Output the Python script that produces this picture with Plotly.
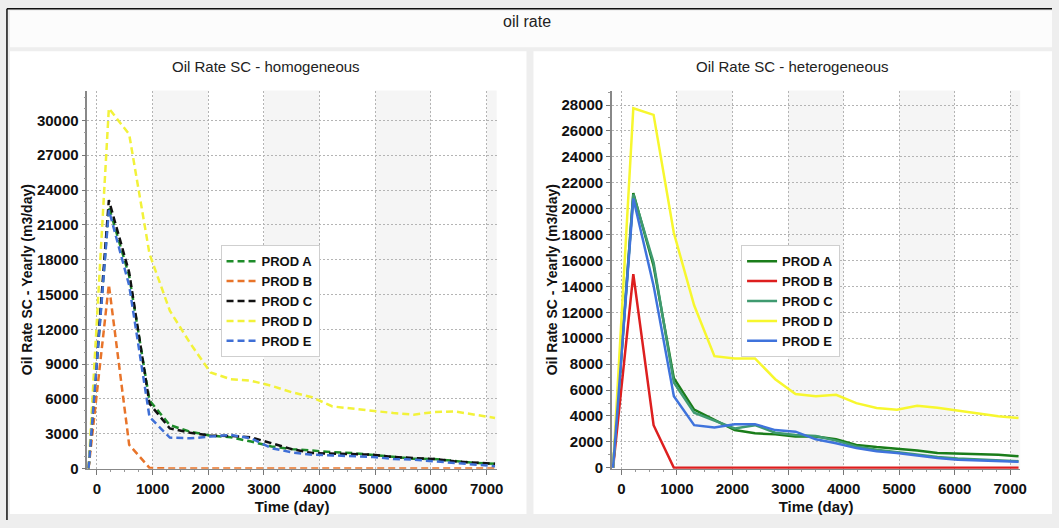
import plotly.graph_objects as go

# ---------------- data ----------------
time_days = [-150, 215, 580, 945, 1310, 1675, 2040, 2405, 2770, 3135, 3500,
             3865, 4230, 4595, 4960, 5325, 5690, 6055, 6420, 6785, 7150]
series_names = ["PROD A", "PROD B", "PROD C", "PROD D", "PROD E"]

# homogeneous case
homo_a = [0, 22560, 16600, 5860, 3740, 3170, 2830, 2690, 2320, 1900, 1670,
          1530, 1415, 1330, 1190, 990, 850, 820, 620, 480, 400]
homo_b = [0, 15850, 2040, 50, 0, 0, 0, 0, 0, 0, 0,
          0, 0, 0, 0, 0, 0, 0, 0, 0, 0]
homo_c = [0, 23125, 16900, 5580, 3450, 3090, 2830, 2800, 2690, 2180, 1670,
          1330, 1270, 1270, 1190, 990, 900, 820, 620, 480, 400]
homo_d = [0, 31050, 28800, 18500, 13600, 10800, 8270, 7700, 7560, 7130, 6570,
          6140, 5350, 5150, 5010, 4780, 4640, 4870, 4920, 4670, 4360]
homo_e = [0, 22280, 15770, 4440, 2660, 2600, 2750, 2890, 2600, 1750, 1390,
          1190, 1130, 1050, 990, 820, 760, 620, 480, 280, 200]

# heterogeneous case
hete_a = [0, 21210, 15580, 6920, 4490, 3670, 2910, 2660, 2580, 2410, 2410,
          2200, 1770, 1600, 1470, 1340, 1140, 1090, 1090, 1010, 890]
hete_b = [0, 14950, 3290, 0, 0, 0, 0, 0, 0, 0, 0,
          0, 0, 0, 0, 0, 0, 0, 0, 0, 0]
hete_c = [0, 21100, 15840, 6590, 4260, 3620, 3040, 3290, 2710, 2530, 2460,
          2100, 1650, 1390, 1190, 1010, 840, 710, 630, 560, 510]
hete_d = [0, 27750, 27240, 18120, 12540, 8620, 8440, 8440, 6840, 5700, 5520,
          5630, 4990, 4610, 4490, 4790, 4640, 4430, 4180, 3980, 3850]
hete_e = [0, 20780, 14060, 5520, 3290, 3120, 3370, 3370, 2910, 2790, 2200,
          1900, 1520, 1270, 1140, 940, 760, 630, 580, 510, 460]

homo_values = [homo_a, homo_b, homo_c, homo_d, homo_e]
hete_values = [hete_a, hete_b, hete_c, hete_d, hete_e]

x_tick_vals = [0, 1000, 2000, 3000, 4000, 5000, 6000, 7000]
homo_y_ticks = [0, 3000, 6000, 9000, 12000, 15000, 18000, 21000, 24000, 27000, 30000]
hete_y_ticks = [0, 2000, 4000, 6000, 8000, 10000, 12000, 14000, 16000, 18000,
                20000, 22000, 24000, 26000, 28000]
shade_bands = [(1000, 2000), (3000, 4000), (5000, 6000), (7000, 8000)]

homo_colors = ["#1e8c2a", "#e8742a", "#111111", "#f2f23a", "#3f6fd6"]
hete_colors = ["#1a7d1a", "#dd1f1f", "#3f9a70", "#f7f72e", "#3f73dc"]

# ---------------- figure ----------------
W, H = 1059, 528
fig = go.Figure()

for name, vals, col in zip(series_names, homo_values, homo_colors):
    fig.add_trace(go.Scatter(x=time_days, y=vals, name=name, mode="lines",
                             line=dict(color=col, width=2.5, dash="7px,4px"),
                             xaxis="x", yaxis="y", legend="legend"))
for name, vals, col in zip(series_names, hete_values, hete_colors):
    fig.add_trace(go.Scatter(x=time_days, y=vals, name=name, mode="lines",
                             line=dict(color=col, width=2.5),
                             xaxis="x2", yaxis="y2", legend="legend2"))

def px_x(p):
    return p / W

def px_y(p):
    return 1 - p / H

shapes = []
# background panels
shapes.append(dict(type="rect", xref="paper", yref="paper", x0=px_x(10), x1=1,
                   y0=px_y(48), y1=px_y(11), fillcolor="#fcfcfc", line_width=0, layer="below"))
shapes.append(dict(type="rect", xref="paper", yref="paper", x0=px_x(10), x1=px_x(530),
                   y0=px_y(522), y1=px_y(52), fillcolor="#ffffff", line_width=0, layer="below"))
shapes.append(dict(type="rect", xref="paper", yref="paper", x0=px_x(537), x1=1,
                   y0=px_y(522), y1=px_y(52), fillcolor="#ffffff", line_width=0, layer="below"))
# black frame lines
shapes.append(dict(type="line", xref="paper", yref="paper", x0=px_x(7), x1=1,
                   y0=px_y(9), y1=px_y(9), line=dict(color="#111111", width=1.5)))
shapes.append(dict(type="line", xref="paper", yref="paper", x0=px_x(7), x1=px_x(7),
                   y0=0, y1=px_y(9), line=dict(color="#111111", width=1.5)))
# alternating shaded bands
for xr, yr in (("x", "y domain"), ("x2", "y2 domain")):
    for a, b in shade_bands:
        shapes.append(dict(type="rect", xref=xr, yref=yr, x0=a, x1=b, y0=0, y1=1,
                           fillcolor="#f5f5f5", line_width=0, layer="below"))

grid_col = "#b4b4b4"
FONT = "Liberation Sans, Arial"
tick_font = dict(family=FONT, size=15, color="#111111", weight="bold")
title_font = dict(family=FONT, size=15, color="#111111", weight="bold")

def xaxis_cfg(domain, anchor):
    return dict(domain=domain, anchor=anchor, range=[-170, 7180],
                tickvals=x_tick_vals, tickformat="d",
                ticks="outside", ticklen=5, tickcolor="#777777",
                showline=True, linecolor="#888888", linewidth=1,
                showgrid=True, gridcolor=grid_col, griddash="2px,2px", gridwidth=1,
                zeroline=False, tickfont=tick_font, ticklabelstandoff=1,
                title=dict(text="Time (day)", font=title_font, standoff=5),
                minor=dict(dtick=250, tick0=0, ticks="outside", ticklen=2,
                           tickcolor="#999999", showgrid=False))

def yaxis_cfg(domain, anchor, rng, ticks, minor_dt):
    return dict(domain=domain, anchor=anchor, range=rng,
                tickvals=ticks, tickformat="d",
                ticks="outside", ticklen=4, tickcolor="#777777",
                showline=True, linecolor="#888888", linewidth=1.5,
                showgrid=True, gridcolor=grid_col, griddash="2px,2px", gridwidth=1,
                zeroline=False, tickfont=tick_font,
                title=dict(text="Oil Rate SC - Yearly (m3/day)",
                           font=dict(family=FONT, size=14, color="#111111", weight="bold"),
                           standoff=1),
                minor=dict(dtick=minor_dt, tick0=0, ticks="outside", ticklen=2,
                           tickcolor="#999999", showgrid=False))

legend_font = dict(family=FONT, size=13, color="#111111", weight="bold")
ydom = [px_y(476), px_y(92)]
fig.update_layout(
    width=W, height=H,
    margin=dict(l=0, r=0, t=0, b=0),
    paper_bgcolor="#eeeeee", plot_bgcolor="rgba(0,0,0,0)",
    showlegend=True,
    xaxis=xaxis_cfg([px_x(88), px_x(500)], "y"),
    yaxis=yaxis_cfg(ydom, "x", [-25, 32570], homo_y_ticks, 1000),
    xaxis2=xaxis_cfg([px_x(616), px_x(1027)], "y2"),
    yaxis2=yaxis_cfg(ydom, "x2", [-76, 29114], hete_y_ticks, 1000),
    legend=dict(x=px_x(222), y=px_y(249), xanchor="left", yanchor="top",
                bgcolor="#ffffff", bordercolor="#cfcfcf", borderwidth=1,
                font=legend_font, tracegroupgap=0, itemwidth=30),
    legend2=dict(x=px_x(746), y=px_y(249), xanchor="left", yanchor="top",
                 bgcolor="#ffffff", bordercolor="#cfcfcf", borderwidth=1,
                 font=legend_font, tracegroupgap=0, itemwidth=30),
    shapes=shapes,
    annotations=[
        dict(text="oil rate", x=px_x(531), y=px_y(22), xref="paper", yref="paper",
             xanchor="center", yanchor="middle",
             showarrow=False, font=dict(family=FONT, size=16, color="#222222")),
        dict(text="Oil Rate SC - homogeneous", x=px_x(268), y=px_y(68), xref="paper", yref="paper",
             xanchor="center", yanchor="middle",
             showarrow=False, font=dict(family=FONT, size=15, color="#222222")),
        dict(text="Oil Rate SC - heterogeneous", x=px_x(798), y=px_y(68), xref="paper", yref="paper",
             xanchor="center", yanchor="middle",
             showarrow=False, font=dict(family=FONT, size=15, color="#222222")),
    ],
)

fig.write_html("out.html")
